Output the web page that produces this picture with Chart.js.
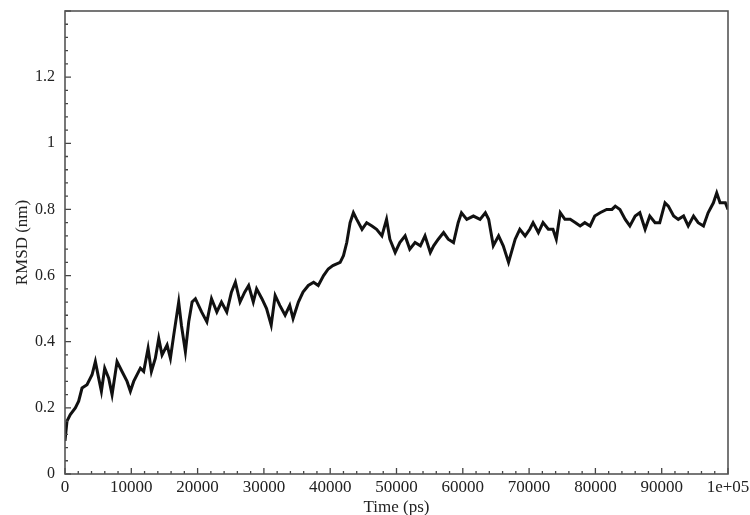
<!DOCTYPE html>
<html>
<head>
<meta charset="utf-8">
<script src="https://cdn.jsdelivr.net/npm/chart.js@4/dist/chart.umd.min.js"></script>
<style>
  html, body { margin: 0; padding: 0; background: #fff; }
  #wrap { width: 750px; height: 515px; }
</style>
</head>
<body>
<div id="wrap"><canvas id="rmsdChart" width="750" height="515"></canvas></div>
<script>
// Time (ps) and RMSD (nm)
const timePs = [
    0, 300, 800, 1560, 2060, 2570, 3320, 4080, 4580, 5080,
    5490, 5990, 6590, 7100, 7850, 8600, 9360, 9860, 10360, 11370,
    11870, 12530, 13030, 13630, 14140, 14640, 15400, 15900, 16400, 17150,
    17560, 18160, 18660, 19170, 19670, 20600, 21400, 22100, 22900, 23600,
    24400, 25100, 25700, 26400, 27100, 27700, 28400, 28900, 29700, 30400,
    31100, 31700, 32400, 33200, 33900, 34400, 35200, 35900, 36700, 37500,
    38200, 39000, 39700, 40400, 41500, 42000, 42500, 43000, 43500, 44000,
    44800, 45500, 46300, 47000, 47800, 48500, 49000, 49800, 50500, 51300,
    52000, 52800, 53600, 54300, 55100, 55600, 56300, 57100, 57800, 58600,
    59300, 59800, 60600, 61600, 62600, 63400, 63900, 64600, 65400, 66100,
    66900, 67900, 68600, 69400, 70100, 70600, 71400, 72100, 72900, 73600,
    74100, 74700, 75400, 76200, 77000, 77700, 78400, 79200, 79900, 80700,
    81700, 82500, 83000, 83700, 84500, 85200, 86000, 86700, 87500, 88200,
    89000, 89700, 90500, 91000, 91800, 92500, 93300, 94000, 94800, 95500,
    96300, 97000, 97800, 98300, 98800, 99600, 100000
];
const rmsdNm = [
    0.10, 0.16, 0.18, 0.20, 0.22, 0.26, 0.27, 0.30, 0.34, 0.29,
    0.25, 0.32, 0.29, 0.24, 0.34, 0.31, 0.28, 0.25, 0.28, 0.32,
    0.31, 0.38, 0.31, 0.35, 0.41, 0.36, 0.39, 0.35, 0.42, 0.52,
    0.45, 0.37, 0.46, 0.52, 0.53, 0.49, 0.46, 0.53, 0.49, 0.52,
    0.49, 0.55, 0.58, 0.52, 0.55, 0.57, 0.52, 0.56, 0.53, 0.50,
    0.45, 0.54, 0.51, 0.48, 0.51, 0.47, 0.52, 0.55, 0.57, 0.58,
    0.57, 0.60, 0.62, 0.63, 0.64, 0.66, 0.70, 0.76, 0.79, 0.77,
    0.74, 0.76, 0.75, 0.74, 0.72, 0.77, 0.71, 0.67, 0.70, 0.72,
    0.68, 0.70, 0.69, 0.72, 0.67, 0.69, 0.71, 0.73, 0.71, 0.70,
    0.76, 0.79, 0.77, 0.78, 0.77, 0.79, 0.77, 0.69, 0.72, 0.69,
    0.64, 0.71, 0.74, 0.72, 0.74, 0.76, 0.73, 0.76, 0.74, 0.74,
    0.71, 0.79, 0.77, 0.77, 0.76, 0.75, 0.76, 0.75, 0.78, 0.79,
    0.80, 0.80, 0.81, 0.80, 0.77, 0.75, 0.78, 0.79, 0.74, 0.78,
    0.76, 0.76, 0.82, 0.81, 0.78, 0.77, 0.78, 0.75, 0.78, 0.76,
    0.75, 0.79, 0.82, 0.85, 0.82, 0.82, 0.80
];

const xMax = 100000;
const yMax = 1.4;
const serif = '"Liberation Serif", "DejaVu Serif", serif';

// inward major/minor ticks plus the frame, drawn from the scales
const frameTicks = {
    id: 'frameTicks',
    afterDatasetsDraw(chart) {
        const { ctx, chartArea: a, scales } = chart;
        ctx.save();
        ctx.strokeStyle = '#444';
        ctx.lineWidth = 1.3;
        ctx.beginPath();
        for (let v = 0; v <= xMax; v += 2000) {
            const px = scales.x.getPixelForValue(v);
            const len = v % 10000 === 0 ? 6 : 3;
            ctx.moveTo(px, a.bottom);
            ctx.lineTo(px, a.bottom - len);
        }
        for (let i = 0; i <= 35; i++) {
            const py = scales.y.getPixelForValue(i * 0.04);
            const len = i % 5 === 0 ? 6 : 3;
            ctx.moveTo(a.left, py);
            ctx.lineTo(a.left + len, py);
        }
        ctx.stroke();
        ctx.strokeStyle = '#555';
        ctx.lineWidth = 1.6;
        ctx.strokeRect(a.left, a.top, a.right - a.left, a.bottom - a.top);
        ctx.restore();
    }
};

new Chart(document.getElementById('rmsdChart').getContext('2d'), {
    type: 'line',
    data: {
        datasets: [{
            data: timePs.map((t, i) => ({ x: t, y: rmsdNm[i] })),
            borderColor: '#111',
            borderWidth: 3,
            pointRadius: 0,
            tension: 0,
            fill: false
        }]
    },
    options: {
        responsive: false,
        animation: false,
        layout: { padding: { top: 11, right: 0, left: 0, bottom: 0 } },
        plugins: {
            legend: { display: false },
            tooltip: { enabled: false }
        },
        scales: {
            x: {
                type: 'linear',
                min: 0,
                max: xMax,
                afterFit: s => {
                    s.height = 41;
                    s.paddingLeft = 0;
                    s.paddingRight = 22;
                },
                grid: { display: false, drawTicks: false },
                border: { display: false },
                ticks: {
                    stepSize: 10000,
                    padding: 3,
                    maxRotation: 0,
                    autoSkip: false,
                    color: '#222',
                    font: { family: serif, size: 17 },
                    callback: v => (v === 100000 ? '1e+05' : String(v))
                },
                title: {
                    display: true,
                    text: 'Time (ps)',
                    color: '#222',
                    font: { family: serif, size: 17 },
                    padding: { top: 0, bottom: -3 }
                }
            },
            y: {
                min: 0,
                max: yMax,
                afterFit: s => {
                    s.width = 65;
                    s.paddingTop = 0;
                    s.paddingBottom = 0;
                },
                grid: { display: false, drawTicks: false },
                border: { display: false },
                ticks: {
                    stepSize: 0.2,
                    padding: 10,
                    color: '#222',
                    font: { family: serif, size: 16 },
                    callback: v => (v > 1.3 ? '' : String(Number(v.toFixed(1))))
                },
                title: {
                    display: true,
                    text: 'RMSD (nm)',
                    color: '#222',
                    font: { family: serif, size: 17 },
                    padding: { top: 12, bottom: 0 }
                }
            }
        }
    },
    plugins: [frameTicks]
});
</script>
</body>
</html>
